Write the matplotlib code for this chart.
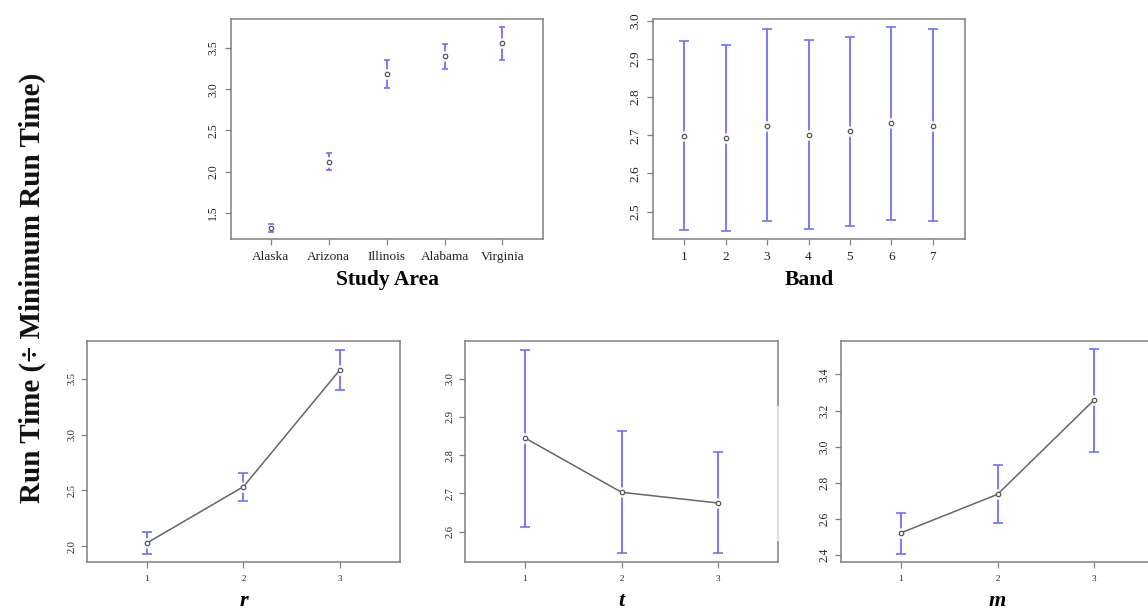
import matplotlib
matplotlib.use("Agg")
import matplotlib.pyplot as plt
import numpy as np

# ---------------- data ----------------
areas = ['Alaska', 'Arizona', 'Illinois', 'Alabama', 'Virginia']
area_mean = [1.31, 2.12, 3.19, 3.40, 3.56]
area_lo = [1.26, 2.02, 3.02, 3.24, 3.36]
area_hi = [1.36, 2.22, 3.35, 3.55, 3.76]

bands = [1, 2, 3, 4, 5, 6, 7]
band_mean = [2.699, 2.694, 2.725, 2.702, 2.710, 2.732, 2.725]
band_lo = [2.452, 2.449, 2.476, 2.455, 2.461, 2.479, 2.475]
band_hi = [2.946, 2.937, 2.978, 2.949, 2.958, 2.983, 2.978]

levels = [1, 2, 3]
r_mean = [2.03, 2.534, 3.58]
r_lo = [1.93, 2.409, 3.40]
r_hi = [2.125, 2.656, 3.756]

t_mean = [2.845, 2.703, 2.675]
t_lo = [2.613, 2.545, 2.544]
t_hi = [3.074, 2.862, 2.808]

m_mean = [2.524, 2.737, 3.259]
m_lo = [2.407, 2.580, 2.970]
m_hi = [2.633, 2.898, 3.542]

# ---------------- style ----------------
plt.rcParams['font.family'] = ['Liberation Serif', 'DejaVu Serif']
SPINE = '#808080'
ERR = '#6f6fff'
PT = '#555555'
TXT = '#222222'

W, H = 1148, 612
fig = plt.figure(figsize=(W / 100, H / 100), dpi=100)


def px_axes(x0, y0, x1, y1):
    return fig.add_axes([x0 / W, 1 - y1 / H, (x1 - x0) / W, (y1 - y0) / H])


def style(ax, xfs, yfs, ypad, xpad):
    for s in ax.spines.values():
        s.set_color(SPINE)
        s.set_linewidth(1.1)
    ax.tick_params(axis='both', colors=SPINE, length=4.5, width=0.9, labelcolor=TXT)
    ax.tick_params(axis='x', labelsize=xfs, pad=xpad)
    ax.tick_params(axis='y', labelsize=yfs, pad=ypad)
    for lab in ax.get_yticklabels():
        lab.set_rotation(90)
        lab.set_va('center')
        lab.set_ha('right')


def draw(ax, x, mean, lo, hi, cap, connect=False):
    mean = np.asarray(mean)
    yerr = [mean - np.asarray(lo), np.asarray(hi) - mean]
    eb = ax.errorbar(x, mean, yerr=yerr, fmt='none', ecolor=ERR, elinewidth=1.3,
                     capsize=cap, capthick=1.2, zorder=2)
    for cl in eb[1]:
        cl.set_zorder(3.5)
    # gap around the point (plotCI style)
    ax.plot(x, mean, 'o', ms=7.5, mfc='white', mec='none', ls='none', zorder=3)
    if connect:
        ax.plot(x, mean, '-', color='#666666', lw=1.1, zorder=4)
    ax.plot(x, mean, 'o', ms=3.2, mfc='white', mec=PT, mew=0.9, ls='none', zorder=5)


# ---- top-left: study area ----
ax1 = px_axes(231, 19, 543, 239)
xa = np.arange(1, len(areas) + 1)
draw(ax1, xa, area_mean, area_lo, area_hi, cap=2.3)
ax1.set_xlim(0.31, 5.70)
ax1.set_ylim(1.18, 3.853)
ax1.set_xticks(xa)
ax1.set_xticklabels(areas)
ax1.set_yticks([1.5, 2.0, 2.5, 3.0, 3.5])
ax1.set_yticklabels(['1.5', '2.0', '2.5', '3.0', '3.5'])
style(ax1, 9.6, 8.5, 4.0, 4.0)
ax1.set_xlabel('Study Area', fontsize=15.5, fontweight='bold', va='center')
ax1.xaxis.set_label_coords(0.5, -0.186)

# ---- top-right: band ----
ax2 = px_axes(653, 19, 965, 239)
draw(ax2, bands, band_mean, band_lo, band_hi, cap=3.3)
ax2.set_xlim(0.244, 7.78)
ax2.set_ylim(2.428, 3.005)
ax2.set_xticks(bands)
ax2.set_xticklabels([str(b) for b in bands])
ax2.set_yticks([2.5, 2.6, 2.7, 2.8, 2.9, 3.0])
ax2.set_yticklabels(['2.5', '2.6', '2.7', '2.8', '2.9', '3.0'])
style(ax2, 9.6, 9.6, 4.0, 4.0)
ax2.set_xlabel('Band', fontsize=15.5, fontweight='bold', va='center')
ax2.xaxis.set_label_coords(0.5, -0.186)

# ---- bottom panels ----
bottom = [
    (87, 400, r_mean, r_lo, r_hi, (1.86, 3.836), [2.0, 2.5, 3.0, 3.5], 'r', 7.5),
    (465, 778, t_mean, t_lo, t_hi, (2.521, 3.098), [2.6, 2.7, 2.8, 2.9, 3.0], 't', 7.5),
    (841, 1154, m_mean, m_lo, m_hi, (2.363, 3.585), [2.4, 2.6, 2.8, 3.0, 3.2, 3.4], 'm', 8.3),
]
axes_b = []
for x0, x1, mn, lo, hi, yl, yt, name, yfs in bottom:
    ax = px_axes(x0, 341, x1, 562)
    draw(ax, levels, mn, lo, hi, cap=3.6, connect=True)
    ax.set_xlim(0.38, 3.62)
    ax.set_ylim(*yl)
    ax.set_xticks(levels)
    ax.set_xticklabels([str(v) for v in levels])
    ax.set_yticks(yt)
    ax.set_yticklabels(['%.1f' % v for v in yt])
    style(ax, 6.5, yfs, 3.0, 5.0)
    ax.set_xlabel(name, fontsize=16, fontweight='bold', fontstyle='italic', va='center')
    ax.xaxis.set_label_coords(0.5, -0.176)
    axes_b.append(ax)

# faint segment of the right frame in the middle bottom panel
axes_b[1].plot([1, 1], [0.10, 0.70], transform=axes_b[1].transAxes, color='#e2e2e2',
               lw=1.6, clip_on=False, zorder=6)

fig.text(32 / W, 1 - 288 / H, 'Run Time (÷ Minimum Run Time)', rotation=90,
         ha='center', va='center', fontsize=21, fontweight='bold', color='#111111')

fig.savefig('out.png', dpi=100)
